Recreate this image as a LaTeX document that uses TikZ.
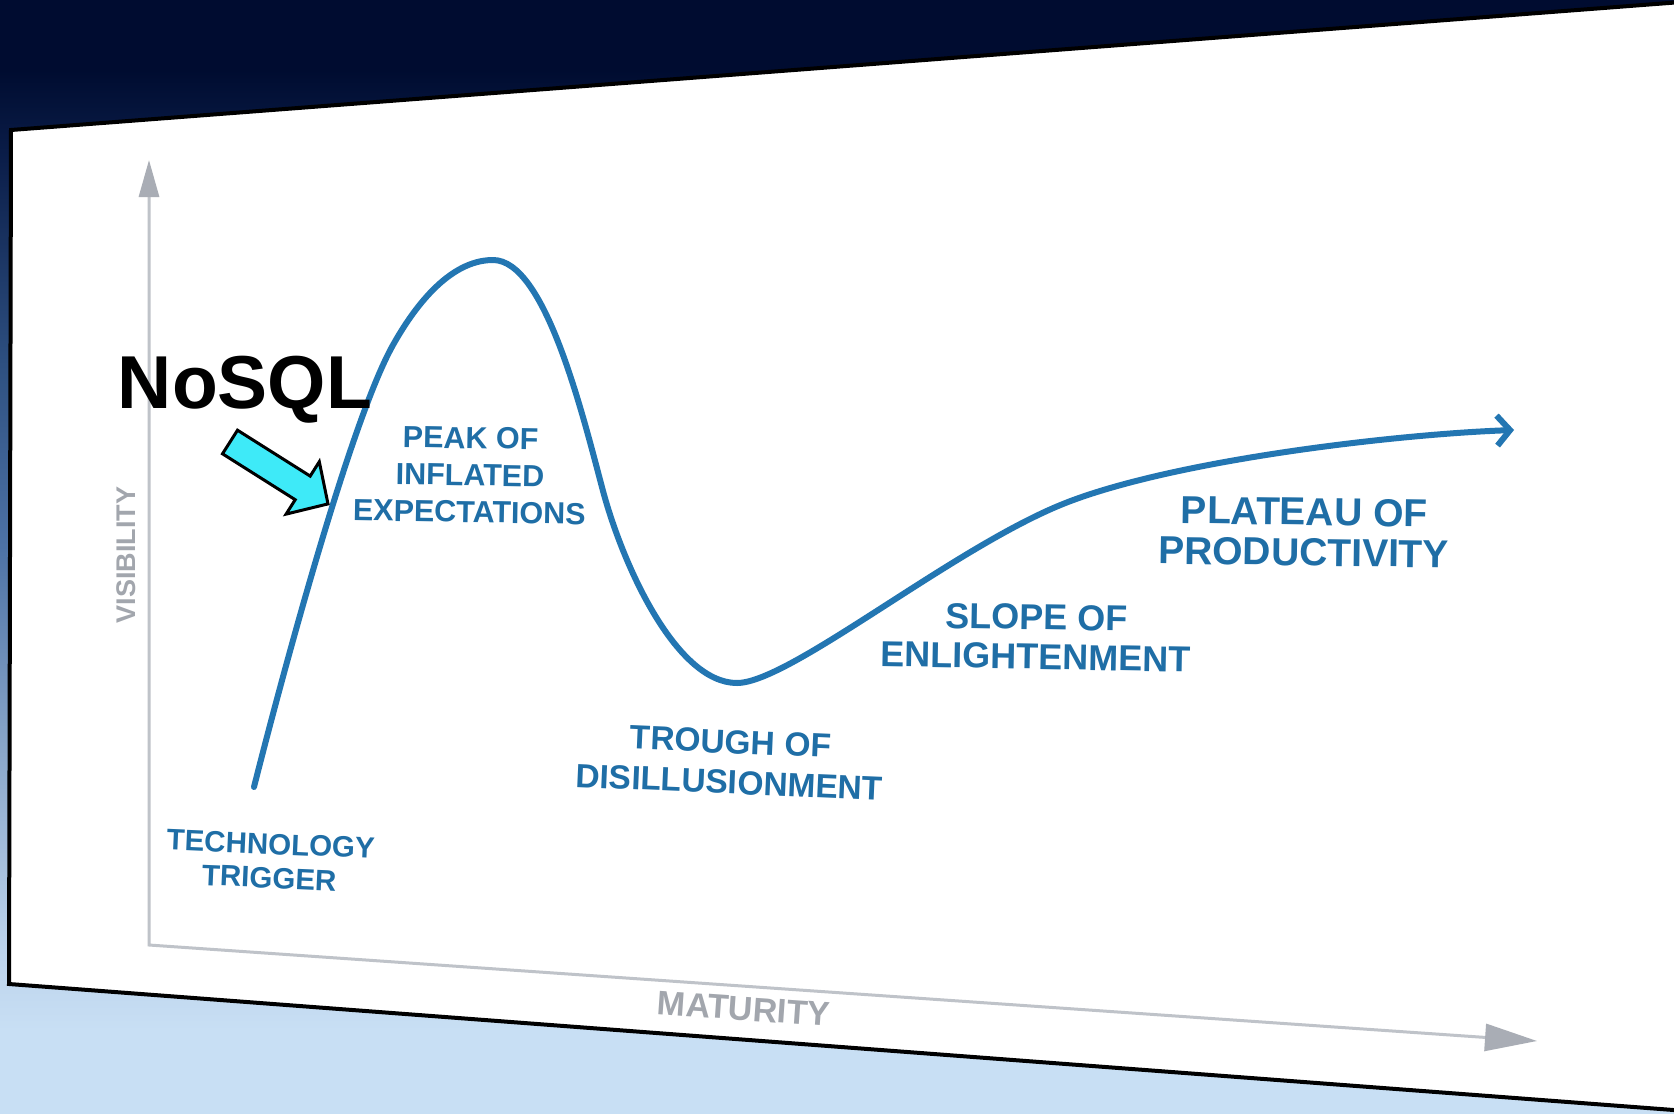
\documentclass[tikz,border=0pt]{standalone}
\usepackage{fontspec}
\setmainfont{Liberation Sans}
\usetikzlibrary{arrows.meta}
\definecolor{bg0}{HTML}{000C30}
\definecolor{bg1}{HTML}{0B1E4A}
\definecolor{bg2}{HTML}{2D4F80}
\definecolor{bg3}{HTML}{4E73A6}
\definecolor{bg4}{HTML}{8AA7CA}
\definecolor{bg5}{HTML}{BCD3EC}
\definecolor{bg6}{HTML}{C8DFF4}
\definecolor{curveblue}{HTML}{2376B2}
\definecolor{labelblue}{HTML}{1F6EA6}
\definecolor{axisgray}{HTML}{BFC3C9}
\definecolor{headgray}{HTML}{A9ADB5}
\definecolor{textgray}{HTML}{A2A6AD}
\definecolor{cyanfill}{HTML}{3EEAF8}
\tikzset{
  lbl/.style={text=labelblue, align=center, inner sep=0pt},
  axislbl/.style={text=textgray, inner sep=0pt},
  hype/.style={draw=curveblue, line width=6pt, line cap=round,
    -{Straight Barb[length=13pt,width=30pt]}},
  axisline/.style={draw=axisgray, line width=3pt, fill=none},
}
\begin{document}
\begin{tikzpicture}[x=1pt,y=-1pt]
\clip (0,0) rectangle (1674,1114);
\useasboundingbox (0,0) rectangle (1674,1114);
% background gradient
\fill[bg0] (0,0) rectangle (1674,71);
\shade[top color=bg0, bottom color=bg1] (0,70) rectangle (1674,161);
\shade[top color=bg1, bottom color=bg2] (0,160) rectangle (1674,361);
\shade[top color=bg2, bottom color=bg3] (0,360) rectangle (1674,551);
\shade[top color=bg3, bottom color=bg4] (0,550) rectangle (1674,751);
\shade[top color=bg4, bottom color=bg5] (0,750) rectangle (1674,951);
\shade[top color=bg5, bottom color=bg6] (0,950) rectangle (1674,1031);
\fill[bg6] (0,1030) rectangle (1674,1114);
% white panel
\filldraw[fill=white, draw=black, line width=4pt, line join=miter]
  (11,130) -- (1700,0.6) -- (1700,1112) -- (9,984) -- cycle;
% axes
\coordinate (vtip) at (149,160);
\coordinate (origin) at (149,945);
\coordinate (htip) at (1537,1041);
\draw[axisline, line join=miter,
  {Triangle[length=37pt,width=20pt,color=headgray]}-{Triangle[length=52pt,width=27pt,color=headgray]}]
  (vtip) -- (origin) -- (htip);
\node[axislbl, rotate=90, font=\bfseries\fontsize{27}{30}\selectfont] (vis) at (126,555) {VISIBILITY};
\node[axislbl, rotate=-4, font=\bfseries\fontsize{34}{38}\selectfont] (mat) at (744,1009) {MATURITY};
% hype curve
\coordinate (c0) at (254,787);
\coordinate (c1) at (393,345);
\coordinate (c2) at (493,260);
\coordinate (c3) at (603,491);
\coordinate (c4) at (737,683);
\coordinate (c5) at (1068,502);
\coordinate (c6) at (1514,430);
\draw[hype] (c0)
  .. controls (276,700) and (349,423) .. (c1)
  .. controls (412.6,310) and (448,260) .. (c2)
  .. controls (545,260) and (582,412) .. (c3)
  .. controls (623.8,568) and (677,683) .. (c4)
  .. controls (790,683) and (956,545) .. (c5)
  .. controls (1180,459) and (1400,434) .. (c6);
% labels
\node[lbl, rotate=-1, font=\bfseries\fontsize{30.5}{37}\selectfont] (peak) at (470,475)
  {PEAK OF\\INFLATED\\EXPECTATIONS};
\node[lbl, rotate=-2.5, font=\bfseries\fontsize{29.5}{34}\selectfont] (trigger) at (270,861)
  {TECHNOLOGY\\TRIGGER};
\node[lbl, rotate=-2.5, font=\bfseries\fontsize{33.5}{40.5}\selectfont] (trough) at (730,762)
  {TROUGH OF\\DISILLUSIONMENT};
\node[lbl, rotate=-1, font=\bfseries\fontsize{36}{39.5}\selectfont] (slope) at (1036,637)
  {SLOPE OF\\ENLIGHTENMENT};
\node[lbl, rotate=-0.8, font=\bfseries\fontsize{39}{40.5}\selectfont] (plateau) at (1304,532)
  {PLATEAU OF\\PRODUCTIVITY};
% NoSQL callout
\node[inner sep=0pt, anchor=base, font=\bfseries\fontsize{75}{80}\selectfont] (nosql) at (245,408) {NoSQL};
\filldraw[fill=cyanfill, draw=black, line width=3pt, line join=miter]
  (237.5,430.2) -- (310.2,476.1) -- (319.3,461.7) -- (328,503.9)
  -- (286.1,514.1) -- (295.2,499.7) -- (222.5,453.8) -- cycle;
\end{tikzpicture}
\end{document}
